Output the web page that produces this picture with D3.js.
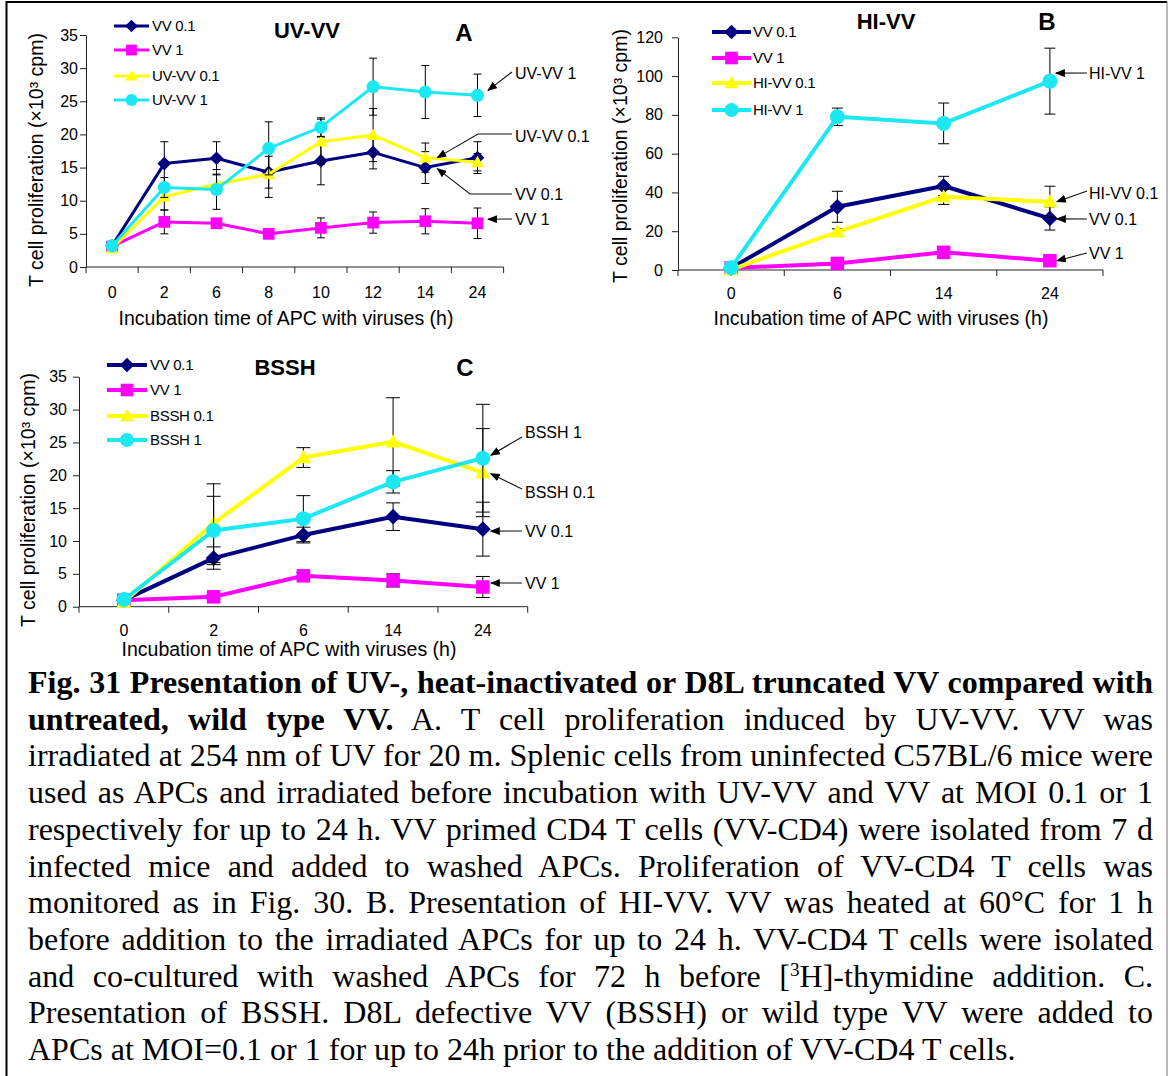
<!DOCTYPE html>
<html lang="en">
<head>
<meta charset="UTF-8">
<title>Fig. 31</title>
<script src="https://cdn.jsdelivr.net/npm/d3@7"></script>
<style>
  body { margin: 0; background: #fff; }
  #fig { position: relative; width: 1172px; height: 1076px; overflow: hidden; background: #fff; }
  #fig svg { position: absolute; left: 0; top: 0; }
  #caption {
    position: absolute; left: 28px; top: 664px; width: 1125px;
    font-family: "Liberation Serif", "Times New Roman", serif;
    font-size: 32px; line-height: 36.7px; color: #000;
  }
  #caption .ln { text-align: justify; text-align-last: justify; white-space: nowrap; }
  #caption .ln.last { text-align: left; text-align-last: left; }
  #caption sup { font-size: 60%; vertical-align: baseline; position: relative; top: -0.55em; line-height: 0; }
  .chart text { font-family: "Liberation Sans", Arial, sans-serif; fill: #000; }
</style>
</head>
<body>
<div id="fig">
  <svg class="chart" width="1172" height="1076"></svg>
  <div id="caption"></div>
</div>
<script>
// ---- data ----
const seriesColors = ["#000080", "#ff00ff", "#ffff00", "#1ce8f4"];
const seriesShapes = ["diamond", "square", "triangle", "circle"];

// panel A : UV-VV
const hoursA = ["0", "2", "6", "8", "10", "12", "14", "24"];
const namesA = ["VV 0.1", "VV 1", "UV-VV 0.1", "UV-VV 1"];
const vv01A = [3.2, 15.6, 16.4, 14.3, 16.0, 17.3, 15.0, 16.5];
const vv01ErrA = [0, 3.3, 2.5, 2.4, 3.6, 2.5, 2.4, 2.4];
const vv1A = [3.1, 6.8, 6.6, 5.0, 5.9, 6.7, 6.9, 6.6];
const vv1ErrA = [0, 1.8, 0.5, 0.5, 1.5, 1.6, 1.9, 2.3];
const uv01A = [2.8, 10.6, 12.5, 14.0, 18.9, 19.9, 16.5, 15.8];
const uv01ErrA = [0, 2.0, 1.5, 3.5, 3.4, 4.0, 2.2, 1.3];
const uv1A = [3.2, 12.0, 11.7, 17.9, 21.1, 27.2, 26.4, 25.9];
const uv1ErrA = [0, 1.5, 3.0, 4.0, 1.4, 4.3, 4.0, 3.2];
const yTicksA = [0, 5, 10, 15, 20, 25, 30, 35];

// panel B : HI-VV
const hoursB = ["0", "6", "14", "24"];
const namesB = ["VV 0.1", "VV 1", "HI-VV 0.1", "HI-VV 1"];
const vv01B = [1.0, 32.6, 43.3, 26.6];
const vv01ErrB = [0, 8.0, 5.0, 6.0];
const vv1B = [1.0, 3.4, 9.1, 4.8];
const vv1ErrB = [0, 0.8, 1.5, 1.0];
const hi01B = [0.2, 19.7, 37.8, 35.2];
const hi01ErrB = [0, 1.5, 4.0, 8.0];
const hi1B = [1.2, 79.0, 75.6, 97.4];
const hi1ErrB = [0, 4.5, 10.5, 17.0];
const yTicksB = [0, 20, 40, 60, 80, 100, 120];

// panel C : BSSH
const hoursC = ["0", "2", "6", "14", "24"];
const namesC = ["VV 0.1", "VV 1", "BSSH 0.1", "BSSH 1"];
const vv01C = [1.0, 7.4, 10.9, 13.7, 11.8];
const vv01ErrC = [0, 1.7, 1.2, 2.1, 4.1];
const vv1C = [1.0, 1.5, 4.7, 4.0, 3.0];
const vv1ErrC = [0, 0.3, 0.5, 1.0, 1.6];
const bs01C = [0.7, 12.7, 22.7, 25.1, 20.4];
const bs01ErrC = [0, 6.0, 1.5, 6.7, 6.7];
const bs1C = [1.1, 11.6, 13.4, 19.0, 22.6];
const bs1ErrC = [0, 5.2, 3.5, 1.7, 8.2];
const yTicksC = [0, 5, 10, 15, 20, 25, 30, 35];

const yTitle = "T cell proliferation (\u00d710\u00b3 cpm)";
const xTitle = "Incubation time of APC with viruses (h)";

const captionLines = [
  "<b>Fig. 31 Presentation of UV-, heat-inactivated or D8L truncated VV compared with</b>",
  "<b>untreated, wild type VV.</b> A. T cell proliferation induced by UV-VV. VV was",
  "irradiated at 254 nm of UV for 20 m. Splenic cells from uninfected C57BL/6 mice were",
  "used as APCs and irradiated before incubation with UV-VV and VV at MOI 0.1 or 1",
  "respectively for up to 24 h. VV primed CD4 T cells (VV-CD4) were isolated from 7 d",
  "infected mice and added to washed APCs. Proliferation of VV-CD4 T cells was",
  "monitored as in Fig. 30. B. Presentation of HI-VV. VV was heated at 60\u00b0C for 1 h",
  "before addition to the irradiated APCs for up to 24 h. VV-CD4 T cells were isolated",
  "and co-cultured with washed APCs for 72 h before [<sup>3</sup>H]-thymidine addition. C.",
  "Presentation of BSSH. D8L defective VV (BSSH) or wild type VV were added to",
  "APCs at MOI=0.1 or 1 for up to 24h prior to the addition of VV-CD4 T cells."
];

// ---- layout ----
const panels = [
  {
    cats: hoursA, names: namesA, title: "UV-VV", letter: "A",
    series: [vv01A, vv1A, uv01A, uv1A], errs: [vv01ErrA, vv1ErrA, uv01ErrA, uv1ErrA],
    yMax: 35, yTicks: yTicksA,
    left: 86, right: 503.6, top: 35, bottom: 267, yPad: 2, xPad: 20,
    mSize: 13, lw: 3, cap: 8,
    titleX: 307, titleY: 30, letterX: 464, letterY: 32,
    yTitleX: 36, yTitleY: 160, xTitleX: 286, xTitleY: 318,
    legend: { x1: 114, x2: 149, tx: 152, rows: [26, 50, 76, 100] },
    notes: [
      { text: "UV-VV 1", s: 3, p: 7, dx: 10.5, dy: -5, lx: 515, ly: 73, sx: 512, sy: 72 },
      { text: "UV-VV 0.1", s: 2, p: 6, dx: 12, dy: 0, lx: 515, ly: 136, sx: 512, sy: 134, ex: 478 },
      { text: "VV 0.1", s: 0, p: 6, dx: 12, dy: 1, lx: 515, ly: 194, sx: 512, sy: 194, ex: 470 },
      { text: "VV 1", s: 1, p: 7, dx: 10.5, dy: -4, lx: 515, ly: 219, sx: 512, sy: 219 }
    ]
  },
  {
    cats: hoursB, names: namesB, title: "HI-VV", letter: "B",
    series: [vv01B, vv1B, hi01B, hi1B], errs: [vv01ErrB, vv1ErrB, hi01ErrB, hi1ErrB],
    yMax: 120, yTicks: yTicksB,
    left: 678, right: 1103, top: 37.3, bottom: 270, yPad: 9, xPad: 17.5,
    mSize: 15, lw: 4, cap: 11,
    titleX: 886, titleY: 21, letterX: 1047, letterY: 21,
    yTitleX: 620, yTitleY: 156, xTitleX: 881, xTitleY: 318,
    legend: { x1: 712, x2: 751, tx: 753, rows: [32, 58, 83, 110] },
    notes: [
      { text: "HI-VV 1", s: 3, p: 3, dx: 6, dy: -8, lx: 1089, ly: 73, sx: 1087, sy: 73 },
      { text: "HI-VV 0.1", s: 2, p: 3, dx: 7, dy: 0, lx: 1089, ly: 193, sx: 1087, sy: 191 },
      { text: "VV 0.1", s: 0, p: 3, dx: 7, dy: 0.5, lx: 1089, ly: 219, sx: 1087, sy: 219 },
      { text: "VV 1", s: 1, p: 3, dx: 7, dy: 0, lx: 1089, ly: 253, sx: 1087, sy: 253 }
    ]
  },
  {
    cats: hoursC, names: namesC, title: "BSSH", letter: "C",
    series: [vv01C, vv1C, bs01C, bs1C], errs: [vv01ErrC, vv1ErrC, bs01ErrC, bs1ErrC],
    yMax: 35, yTicks: yTicksC,
    left: 79, right: 527.7, top: 376.7, bottom: 606.7, yPad: 6, xPad: 17.5,
    mSize: 15, lw: 4, cap: 14,
    titleX: 285, titleY: 367, letterX: 465, letterY: 367,
    yTitleX: 28, yTitleY: 500, xTitleX: 289, xTitleY: 649,
    legend: { x1: 107, x2: 147, tx: 150, rows: [365, 390, 416, 440] },
    notes: [
      { text: "BSSH 1", s: 3, p: 4, dx: 8, dy: -3, lx: 525, ly: 432, sx: 522, sy: 437 },
      { text: "BSSH 0.1", s: 2, p: 4, dx: 8, dy: 1, lx: 525, ly: 492, sx: 522, sy: 489 },
      { text: "VV 0.1", s: 0, p: 4, dx: 8, dy: 2, lx: 525, ly: 531, sx: 522, sy: 531 },
      { text: "VV 1", s: 1, p: 4, dx: 8, dy: -4, lx: 525, ly: 583, sx: 522, sy: 583 }
    ]
  }
];

const svg = d3.select("svg");
const axisColor = "#222";

svg.append("defs").append("marker")
  .attr("id", "arrow").attr("markerUnits", "userSpaceOnUse")
  .attr("markerWidth", 10).attr("markerHeight", 8)
  .attr("refX", 9).attr("refY", 4).attr("orient", "auto")
  .append("path").attr("d", "M0,0L10,4L0,8Z").attr("fill", "#000");

function markerPath(kind, s) {
  const h = s / 2;
  if (kind === "diamond") return `M0,${-h * 1.05}L${h * 1.05},0L0,${h * 1.05}L${-h * 1.05},0Z`;
  if (kind === "square") return `M${-h * 0.9},${-h * 0.9}H${h * 0.9}V${h * 0.9}H${-h * 0.9}Z`;
  if (kind === "triangle") return `M0,${-h}L${h},${h * 0.75}L${-h},${h * 0.75}Z`;
  return `M${h},0A${h},${h} 0 1,1 ${-h},0A${h},${h} 0 1,1 ${h},0Z`;
}

function drawPanel(p) {
  const g = svg.append("g");
  const x = d3.scaleBand().domain(p.cats).range([p.left, p.right]);
  const y = d3.scaleLinear().domain([0, p.yMax]).range([p.bottom, p.top]);
  const cx = c => x(c) + x.bandwidth() / 2;

  // y axis
  g.append("g")
    .attr("transform", `translate(${p.left},0)`)
    .call(d3.axisLeft(y).tickValues(p.yTicks).tickSize(6).tickSizeOuter(0).tickPadding(p.yPad))
    .call(a => a.selectAll("path, line").attr("stroke", axisColor))
    .call(a => a.selectAll("text").attr("font-size", 16).attr("font-family", null));

  // x axis: labels centred in bands, ticks on band edges
  g.append("g")
    .attr("transform", `translate(0,${p.bottom})`)
    .call(d3.axisBottom(x).tickSize(0).tickPadding(p.xPad))
    .call(a => a.select(".domain").remove())
    .call(a => a.selectAll("text").attr("font-size", 16).attr("font-family", null));
  g.append("line")
    .attr("x1", p.left).attr("x2", p.right)
    .attr("y1", p.bottom).attr("y2", p.bottom)
    .attr("stroke", axisColor);
  g.selectAll(".xt")
    .data(p.cats.map(c => x(c)).concat([p.right]))
    .join("line")
    .attr("x1", d => d).attr("x2", d => d)
    .attr("y1", p.bottom).attr("y2", p.bottom + 6)
    .attr("stroke", axisColor);

  // titles
  g.append("text").attr("x", p.titleX).attr("y", p.titleY).attr("dy", "0.35em")
    .attr("text-anchor", "middle").attr("font-size", 22).attr("font-weight", "bold").text(p.title);
  g.append("text").attr("x", p.letterX).attr("y", p.letterY).attr("dy", "0.36em")
    .attr("text-anchor", "middle").attr("font-size", 24).attr("font-weight", "bold").text(p.letter);
  g.append("text").attr("x", p.xTitleX).attr("y", p.xTitleY).attr("dy", "0.35em")
    .attr("text-anchor", "middle").attr("font-size", 19.5).text(xTitle);
  g.append("text")
    .attr("transform", `translate(${p.yTitleX},${p.yTitleY}) rotate(-90)`)
    .attr("dy", "0.35em").attr("text-anchor", "middle").attr("font-size", 19.5).text(yTitle);

  // series: error bars, line, markers
  p.series.forEach((vals, si) => {
    const pts = vals.map((v, i) => ({ x: cx(p.cats[i]), v: v, e: p.errs[si][i] }));
    const eb = g.append("g").attr("stroke", "#000").attr("stroke-width", 1);
    pts.filter(d => d.e > 0).forEach(d => {
      eb.append("line").attr("x1", d.x).attr("x2", d.x).attr("y1", y(d.v - d.e)).attr("y2", y(d.v + d.e));
      [d.v - d.e, d.v + d.e].forEach(t => {
        eb.append("line").attr("x1", d.x - p.cap / 2).attr("x2", d.x + p.cap / 2)
          .attr("y1", y(t)).attr("y2", y(t));
      });
    });
    g.append("path").datum(pts)
      .attr("d", d3.line().x(d => d.x).y(d => y(d.v)))
      .attr("fill", "none").attr("stroke", seriesColors[si])
      .attr("stroke-width", p.lw).attr("stroke-linejoin", "round");
    g.selectAll(null).data(pts).join("path")
      .attr("transform", d => `translate(${d.x},${y(d.v)})`)
      .attr("d", markerPath(seriesShapes[si], p.mSize))
      .attr("fill", seriesColors[si]);
  });

  // legend
  const lg = p.legend;
  p.names.forEach((n, si) => {
    const ry = lg.rows[si];
    g.append("line").attr("x1", lg.x1).attr("x2", lg.x2).attr("y1", ry).attr("y2", ry)
      .attr("stroke", seriesColors[si]).attr("stroke-width", p.lw);
    g.append("path").attr("transform", `translate(${(lg.x1 + lg.x2) / 2},${ry})`)
      .attr("d", markerPath(seriesShapes[si], p.mSize - 1)).attr("fill", seriesColors[si]);
    g.append("text").attr("x", lg.tx).attr("y", ry).attr("dy", "0.35em")
      .attr("font-size", 15).attr("letter-spacing", -0.3).text(n);
  });

  // labels with arrows pointing at the series
  p.notes.forEach(n => {
    const tx = cx(p.cats[n.p]) + n.dx;
    const ty = y(p.series[n.s][n.p]) + n.dy;
    const pts = [[n.sx, n.sy]];
    if (n.ex) pts.push([n.ex, n.sy]);
    pts.push([tx, ty]);
    g.append("path").attr("d", d3.line()(pts))
      .attr("fill", "none").attr("stroke", "#111").attr("stroke-width", 1.1)
      .attr("marker-end", "url(#arrow)");
    g.append("text").attr("x", n.lx).attr("y", n.ly).attr("dy", "0.35em")
      .attr("font-size", 16).text(n.text);
  });
}

panels.forEach(drawPanel);

// frame
svg.append("path").attr("d", "M6.5,1080V2H1167").attr("fill", "none").attr("stroke", "#000").attr("stroke-width", 2);
svg.append("line").attr("x1", 1167).attr("x2", 1167).attr("y1", 1).attr("y2", 1080)
  .attr("stroke", "#777").attr("stroke-width", 1);

// caption
d3.select("#caption").selectAll("div")
  .data(captionLines)
  .join("div")
  .attr("class", (d, i) => i === captionLines.length - 1 ? "ln last" : "ln")
  .html(d => d);
</script>
</body>
</html>
